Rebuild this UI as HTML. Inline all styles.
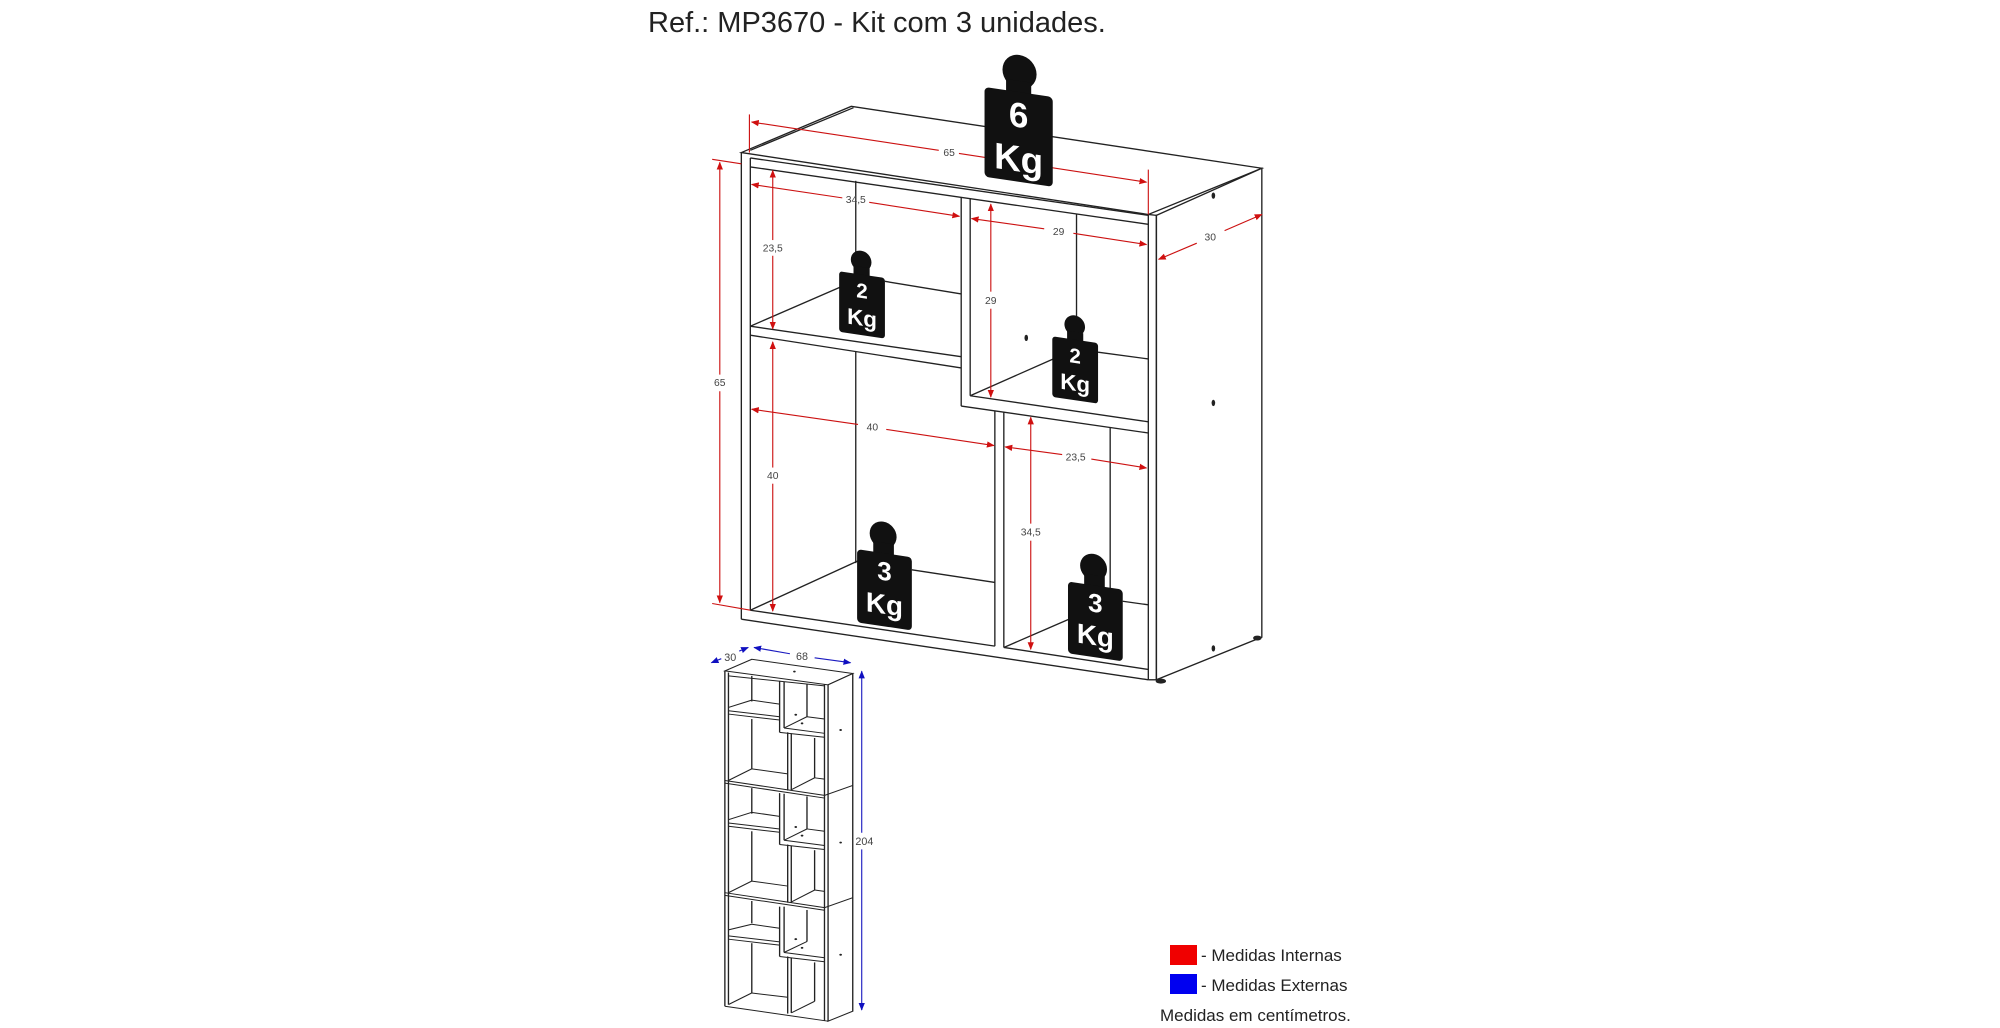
<!DOCTYPE html>
<html><head><meta charset="utf-8"><style>
html,body{margin:0;padding:0;background:#fff;overflow:hidden;}
svg{display:block;}
</style></head><body>
<svg width="2000" height="1028" viewBox="0 0 2000 1028" xmlns="http://www.w3.org/2000/svg" font-family="Liberation Sans, sans-serif">
<text x="648" y="32" font-size="29" fill="#222">Ref.: MP3670 - Kit com 3 unidades.</text>

<defs>
<marker id="ar" viewBox="0 0 10 10" refX="9" refY="5" markerWidth="7" markerHeight="7" orient="auto-start-reverse"><path d="M0,1 L10,5 L0,9 z" fill="#d01010"/></marker>
<marker id="ab" viewBox="0 0 10 10" refX="9" refY="5" markerWidth="7" markerHeight="7" orient="auto-start-reverse"><path d="M0,1 L10,5 L0,9 z" fill="#1010c0"/></marker>
</defs>

<!-- MAIN CABINET in zoom coords -->
<g transform="translate(600,0) scale(0.4487)" fill="none" stroke="#222" stroke-width="3">
  <polygon points="315,340 560,237 1475,375 1222,478" fill="#fff"/>
  <line x1="335" y1="335" x2="565" y2="240"/>
  <polygon points="1240,480 1475,375 1475,1420 1240,1515" fill="#fff"/>
  <line x1="1222" y1="478" x2="1222" y2="1515"/>
  <line x1="1240" y1="478" x2="1240" y2="1515"/>
  <line x1="1222" y1="478" x2="1240" y2="480"/>
  <line x1="315" y1="340" x2="315" y2="1380"/>
  <line x1="335" y1="352" x2="335" y2="1360"/>
  <line x1="315" y1="1380" x2="1222" y2="1515"/>
  <line x1="335" y1="352" x2="1222" y2="480"/>
  <line x1="335" y1="372" x2="1222" y2="500"/>
  <line x1="335" y1="1360" x2="880" y2="1440"/>
  <line x1="900" y1="1443" x2="1222" y2="1492"/>
  <line x1="1222" y1="1515" x2="1240" y2="1515"/>
  <line x1="805" y1="440" x2="805" y2="905"/>
  <line x1="825" y1="443" x2="825" y2="882"/>
  <line x1="825" y1="882" x2="1222" y2="940"/>
  <line x1="805" y1="905" x2="1222" y2="965"/>
  <line x1="880" y1="915" x2="880" y2="1440"/>
  <line x1="900" y1="918" x2="900" y2="1443"/>
  <line x1="335" y1="727" x2="805" y2="795"/>
  <line x1="335" y1="747" x2="805" y2="820"/>
  <line x1="570" y1="403" x2="570" y2="640"/>
  <line x1="570" y1="783" x2="570" y2="1255"/>
  <line x1="1062" y1="478" x2="1062" y2="745"/>
  <line x1="1137" y1="952" x2="1137" y2="1340"/>
  <line x1="335" y1="727" x2="540" y2="638"/>
  <line x1="635" y1="627" x2="805" y2="655"/>
  <line x1="335" y1="1360" x2="575" y2="1250"/>
  <line x1="695" y1="1270" x2="880" y2="1298"/>
  <line x1="825" y1="882" x2="1010" y2="800"/>
  <line x1="1110" y1="785" x2="1222" y2="800"/>
  <line x1="900" y1="1443" x2="1045" y2="1380"/>
  <line x1="1165" y1="1340" x2="1222" y2="1348"/>
  <ellipse cx="1250" cy="1518" rx="10" ry="4" fill="#222"/>
  <ellipse cx="1465" cy="1422" rx="8" ry="4" fill="#222"/>
  <g fill="#222" stroke="none">
    <ellipse cx="1367" cy="436" rx="4" ry="7"/>
    <ellipse cx="1367" cy="898" rx="4" ry="7"/>
    <ellipse cx="1367" cy="1445" rx="4" ry="7"/>
    <ellipse cx="950" cy="753" rx="4" ry="7"/>
  </g>

  <g stroke="#cc1111" stroke-width="2.5">
    <line x1="333" y1="255" x2="333" y2="340"/>
    <line x1="1222" y1="378" x2="1222" y2="478"/>
    <line x1="250" y1="355" x2="315" y2="365"/>
    <line x1="250" y1="1345" x2="335" y2="1360"/>
    <line x1="338" y1="272" x2="755" y2="335" marker-start="url(#ar)"/>
    <line x1="800" y1="342" x2="1218" y2="406" marker-end="url(#ar)"/>
    <line x1="267" y1="362" x2="267" y2="835" marker-start="url(#ar)"/>
    <line x1="267" y1="872" x2="267" y2="1343" marker-end="url(#ar)"/>
    <line x1="338" y1="411" x2="540" y2="441" marker-start="url(#ar)"/>
    <line x1="600" y1="451" x2="801" y2="482" marker-end="url(#ar)"/>
    <line x1="385" y1="380" x2="385" y2="535" marker-start="url(#ar)"/>
    <line x1="385" y1="570" x2="385" y2="733" marker-end="url(#ar)"/>
    <line x1="385" y1="762" x2="385" y2="1042" marker-start="url(#ar)"/>
    <line x1="385" y1="1078" x2="385" y2="1362" marker-end="url(#ar)"/>
    <line x1="828" y1="487" x2="990" y2="510" marker-start="url(#ar)"/>
    <line x1="1055" y1="520" x2="1218" y2="545" marker-end="url(#ar)"/>
    <line x1="871" y1="455" x2="871" y2="650" marker-start="url(#ar)"/>
    <line x1="871" y1="688" x2="871" y2="885" marker-end="url(#ar)"/>
    <line x1="338" y1="912" x2="575" y2="946" marker-start="url(#ar)"/>
    <line x1="638" y1="957" x2="878" y2="993" marker-end="url(#ar)"/>
    <line x1="903" y1="996" x2="1030" y2="1013" marker-start="url(#ar)"/>
    <line x1="1095" y1="1023" x2="1218" y2="1043" marker-end="url(#ar)"/>
    <line x1="960" y1="930" x2="960" y2="1167" marker-start="url(#ar)"/>
    <line x1="960" y1="1205" x2="960" y2="1447" marker-end="url(#ar)"/>
    <line x1="1245" y1="578" x2="1330" y2="542" marker-start="url(#ar)"/>
    <line x1="1392" y1="514" x2="1475" y2="478" marker-end="url(#ar)"/>
  </g>
  <g fill="#444" stroke="none" font-size="23" text-anchor="middle">
    <text x="778" y="348">65</text>
    <text x="267" y="860">65</text>
    <text x="570" y="453">34,5</text>
    <text x="385" y="561">23,5</text>
    <text x="385" y="1068">40</text>
    <text x="1022" y="524">29</text>
    <text x="871" y="677">29</text>
    <text x="607" y="960">40</text>
    <text x="1060" y="1026">23,5</text>
    <text x="960" y="1194">34,5</text>
    <text x="1360" y="536">30</text>
  </g>

  <g stroke="none">
    <g transform="translate(932,310) skewY(8.4) translate(-932,-310)">
      <circle cx="935" cy="160" r="38" fill="#111"/>
      <rect x="905" y="180" width="56" height="45" fill="#111"/>
      <rect x="857" y="205" width="152" height="200" rx="10" fill="#111"/>
      <text x="933" y="283" font-size="78" font-weight="bold" fill="#fff" text-anchor="middle">6</text>
      <text x="933" y="382" font-size="82" font-weight="bold" fill="#fff" text-anchor="middle">Kg</text>
    </g>
    <g transform="translate(584,680) skewY(8.4) translate(-584,-680)">
      <circle cx="582" cy="582" r="23" fill="#111"/>
      <rect x="565" y="595" width="36" height="25" fill="#111"/>
      <rect x="533" y="612" width="102" height="135" rx="7" fill="#111"/>
      <text x="584" y="664" font-size="46" font-weight="bold" fill="#fff" text-anchor="middle">2</text>
      <text x="584" y="726" font-size="50" font-weight="bold" fill="#fff" text-anchor="middle">Kg</text>
    </g>
    <g transform="translate(1059,825) skewY(8.4) translate(-1059,-825)">
      <circle cx="1058" cy="726" r="23" fill="#111"/>
      <rect x="1041" y="740" width="36" height="25" fill="#111"/>
      <rect x="1008" y="757" width="102" height="135" rx="7" fill="#111"/>
      <text x="1059" y="809" font-size="46" font-weight="bold" fill="#fff" text-anchor="middle">2</text>
      <text x="1059" y="871" font-size="50" font-weight="bold" fill="#fff" text-anchor="middle">Kg</text>
    </g>
    <g transform="translate(634,1315) skewY(8.4) translate(-634,-1315)">
      <circle cx="631" cy="1193" r="30" fill="#111"/>
      <rect x="609" y="1210" width="46" height="35" fill="#111"/>
      <rect x="573" y="1233" width="122" height="163" rx="9" fill="#111"/>
      <text x="634" y="1293" font-size="58" font-weight="bold" fill="#fff" text-anchor="middle">3</text>
      <text x="634" y="1368" font-size="62" font-weight="bold" fill="#fff" text-anchor="middle">Kg</text>
    </g>
    <g transform="translate(1104,1385) skewY(8.4) translate(-1104,-1385)">
      <circle cx="1100" cy="1265" r="30" fill="#111"/>
      <rect x="1079" y="1282" width="46" height="35" fill="#111"/>
      <rect x="1043" y="1305" width="122" height="160" rx="9" fill="#111"/>
      <text x="1104" y="1364" font-size="58" font-weight="bold" fill="#fff" text-anchor="middle">3</text>
      <text x="1104" y="1438" font-size="62" font-weight="bold" fill="#fff" text-anchor="middle">Kg</text>
    </g>
  </g>
</g>

<!-- SMALL STACK -->
<g transform="translate(680,328) scale(0.4487)">
 <g transform="translate(0,705) scale(1,0.74)" fill="none" stroke="#222" stroke-width="3" vector-effect="non-scaling-stroke">
  <polygon points="100,80 160,45 385,88 330,122" fill="#fff"/>
  <polygon points="330,122 385,88 385,1105 330,1135" fill="#fff"/>
  <line x1="322" y1="120" x2="322" y2="1133"/>
  <line x1="100" y1="80" x2="100" y2="1090"/>
  <line x1="108" y1="85" x2="108" y2="1085"/>
  <line x1="100" y1="1090" x2="330" y2="1135"/>
  <line x1="108" y1="95" x2="322" y2="125"/>
  <g id="mod">
    <line x1="160" y1="95" x2="160" y2="172"/>
    <line x1="108" y1="190" x2="160" y2="168"/>
    <line x1="160" y1="168" x2="222" y2="180"/>
    <line x1="108" y1="200" x2="222" y2="218"/>
    <line x1="108" y1="210" x2="222" y2="228"/>
    <line x1="222" y1="110" x2="222" y2="265"/>
    <line x1="232" y1="112" x2="232" y2="252"/>
    <line x1="283" y1="120" x2="283" y2="218"/>
    <line x1="232" y1="252" x2="283" y2="218"/>
    <line x1="283" y1="218" x2="322" y2="225"/>
    <line x1="232" y1="252" x2="322" y2="268"/>
    <line x1="222" y1="265" x2="322" y2="280"/>
    <line x1="240" y1="265" x2="240" y2="440"/>
    <line x1="248" y1="268" x2="248" y2="440"/>
    <line x1="160" y1="225" x2="160" y2="375"/>
    <line x1="300" y1="282" x2="300" y2="402"/>
    <line x1="108" y1="410" x2="160" y2="375"/>
    <line x1="160" y1="375" x2="240" y2="390"/>
    <line x1="248" y1="438" x2="300" y2="402"/>
    <line x1="300" y1="402" x2="322" y2="406"/>
    <line x1="100" y1="410" x2="322" y2="455"/>
    <line x1="100" y1="418" x2="322" y2="463"/>
    <line x1="322" y1="455" x2="385" y2="425"/>
  </g>
  <use href="#mod" transform="translate(0,338)"/>
  <line x1="160" y1="773" x2="160" y2="840"/>
  <line x1="108" y1="860" x2="160" y2="843"/>
  <line x1="160" y1="843" x2="222" y2="855"/>
  <line x1="108" y1="878" x2="222" y2="896"/>
  <line x1="108" y1="888" x2="222" y2="906"/>
  <line x1="222" y1="790" x2="222" y2="940"/>
  <line x1="232" y1="790" x2="232" y2="928"/>
  <line x1="283" y1="800" x2="283" y2="895"/>
  <line x1="232" y1="928" x2="283" y2="895"/>
  <line x1="232" y1="928" x2="322" y2="944"/>
  <line x1="222" y1="940" x2="322" y2="956"/>
  <line x1="240" y1="940" x2="240" y2="1112"/>
  <line x1="248" y1="943" x2="248" y2="1110"/>
  <line x1="160" y1="900" x2="160" y2="1050"/>
  <line x1="300" y1="958" x2="300" y2="1075"/>
  <line x1="108" y1="1085" x2="160" y2="1050"/>
  <line x1="160" y1="1050" x2="240" y2="1063"/>
  <line x1="248" y1="1110" x2="300" y2="1075"/>
  <g fill="#222" stroke="none">
    <circle cx="255" cy="82" r="3"/><circle cx="358" cy="258" r="3"/><circle cx="358" cy="597" r="3"/><circle cx="358" cy="935" r="3"/>
    <circle cx="258" cy="212" r="3"/><circle cx="272" cy="238" r="3"/><circle cx="258" cy="550" r="3"/><circle cx="272" cy="576" r="3"/><circle cx="258" cy="888" r="3"/><circle cx="272" cy="914" r="3"/>
  </g>
 </g>
  <g stroke="#1a1ac0" stroke-width="2.5">
    <line x1="70" y1="746" x2="92" y2="737" marker-start="url(#ab)"/>
    <line x1="132" y1="720" x2="152" y2="712" marker-end="url(#ab)"/>
    <line x1="165" y1="712" x2="245" y2="726" marker-start="url(#ab)"/>
    <line x1="300" y1="735" x2="380" y2="746" marker-end="url(#ab)"/>
    <line x1="405" y1="765" x2="405" y2="1125" marker-start="url(#ab)"/>
    <line x1="405" y1="1162" x2="405" y2="1520" marker-end="url(#ab)"/>
  </g>
  <g fill="#444" stroke="none" font-size="24" text-anchor="middle">
    <text x="112" y="742">30</text>
    <text x="272" y="740">68</text>
    <text x="411" y="1152">204</text>
  </g>
</g>

<!-- legend -->
<rect x="1170" y="945" width="27" height="20" fill="#f00000"/>
<rect x="1170" y="974" width="27" height="20" fill="#0000f0"/>
<g font-size="17" fill="#222">
  <text x="1201" y="961">- Medidas Internas</text>
  <text x="1201" y="991">- Medidas Externas</text>
  <text x="1160" y="1021">Medidas em centímetros.</text>
</g>
</svg>
</body></html>
